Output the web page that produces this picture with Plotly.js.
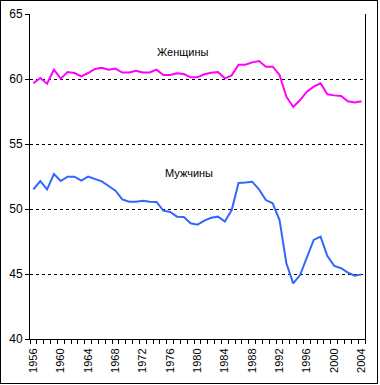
<!DOCTYPE html>
<html><head><meta charset="utf-8">
<script src="https://cdn.plot.ly/plotly-3.0.1.min.js"></script>
<style>body{margin:0;background:#fff}#wrap{position:relative;width:380px;height:385px}#frame{position:absolute;left:0;top:0;width:376px;height:382px;border:1px solid #000;pointer-events:none}</style>
</head><body><div id="wrap"><div id="chart"></div><div id="frame"></div></div>
<script>
const years = [1956,1957,1958,1959,1960,1961,1962,1963,1964,1965,1966,1967,1968,1969,1970,1971,1972,1973,1974,1975,1976,1977,1978,1979,1980,1981,1982,1983,1984,1985,1986,1987,1988,1989,1990,1991,1992,1993,1994,1995,1996,1997,1998,1999,2000,2001,2002,2003,2004];
const women = [59.67,60.08,59.64,60.72,60.03,60.54,60.46,60.2,60.46,60.77,60.87,60.72,60.8,60.5,60.5,60.64,60.5,60.5,60.72,60.31,60.31,60.44,60.38,60.13,60.13,60.36,60.48,60.54,60.05,60.28,61.1,61.1,61.28,61.38,60.95,60.95,60.31,58.64,57.85,58.38,59.03,59.41,59.67,58.82,58.74,58.69,58.28,58.2,58.28];
const men = [51.51,52.15,51.51,52.69,52.15,52.49,52.49,52.18,52.49,52.28,52.13,51.77,51.41,50.74,50.56,50.56,50.64,50.56,50.54,49.87,49.77,49.41,49.38,48.9,48.79,49.1,49.32,49.41,49.03,49.92,52.0,52.03,52.1,51.51,50.69,50.44,49.15,45.82,44.28,44.92,46.33,47.62,47.87,46.38,45.62,45.44,45.1,44.87,44.97];
const tickYears = [1956,1960,1964,1968,1972,1976,1980,1984,1988,1992,1996,2000,2004];
const seriesNames = ['Женщины','Мужчины'];

const font = {family:'Liberation Sans, Arial, sans-serif', size:11, color:'#000'};
const traces = [
  {x:years, y:women, type:'scatter', mode:'lines', name:seriesNames[0], line:{color:'#FF00FF', width:2}},
  {x:years, y:men, type:'scatter', mode:'lines', name:seriesNames[1], line:{color:'#3366FF', width:2}}
];
const layout = {
  width:380, height:385,
  margin:{l:30, r:15, t:14, b:46},
  paper_bgcolor:'#fff', plot_bgcolor:'#fff',
  showlegend:false,
  font:font,
  xaxis:{range:[1955.5,2004.5], tickmode:'array', tickvals:tickYears, ticktext:tickYears.map(String),
    tickangle:-90, ticks:'', ticklabelstandoff:4, showgrid:false, zeroline:false, showline:true, linecolor:'#000', linewidth:1,
    tickfont:font,
    minor:{tickmode:'linear', tick0:1955.5, dtick:1, ticks:'outside', ticklen:4, tickcolor:'#000', tickwidth:1, showgrid:false}},
  yaxis:{range:[40,65], tickmode:'linear', tick0:40, dtick:5, ticks:'outside', ticklen:4, tickcolor:'#000',
    showgrid:true, gridcolor:'#000', gridwidth:1, griddash:'3px,3px', zeroline:false,
    showline:true, mirror:true, linecolor:'#000', linewidth:1, tickfont:{family:font.family, size:12, color:'#000'}},
  annotations:[
    {x:1977.8, y:62.1, xref:'x', yref:'y', text:seriesNames[0], showarrow:false, font:font},
    {x:1978.8, y:52.77, xref:'x', yref:'y', text:seriesNames[1], showarrow:false, font:font}
  ]
};
Plotly.newPlot('chart', traces, layout, {displayModeBar:false, staticPlot:true});
</script></body></html>
